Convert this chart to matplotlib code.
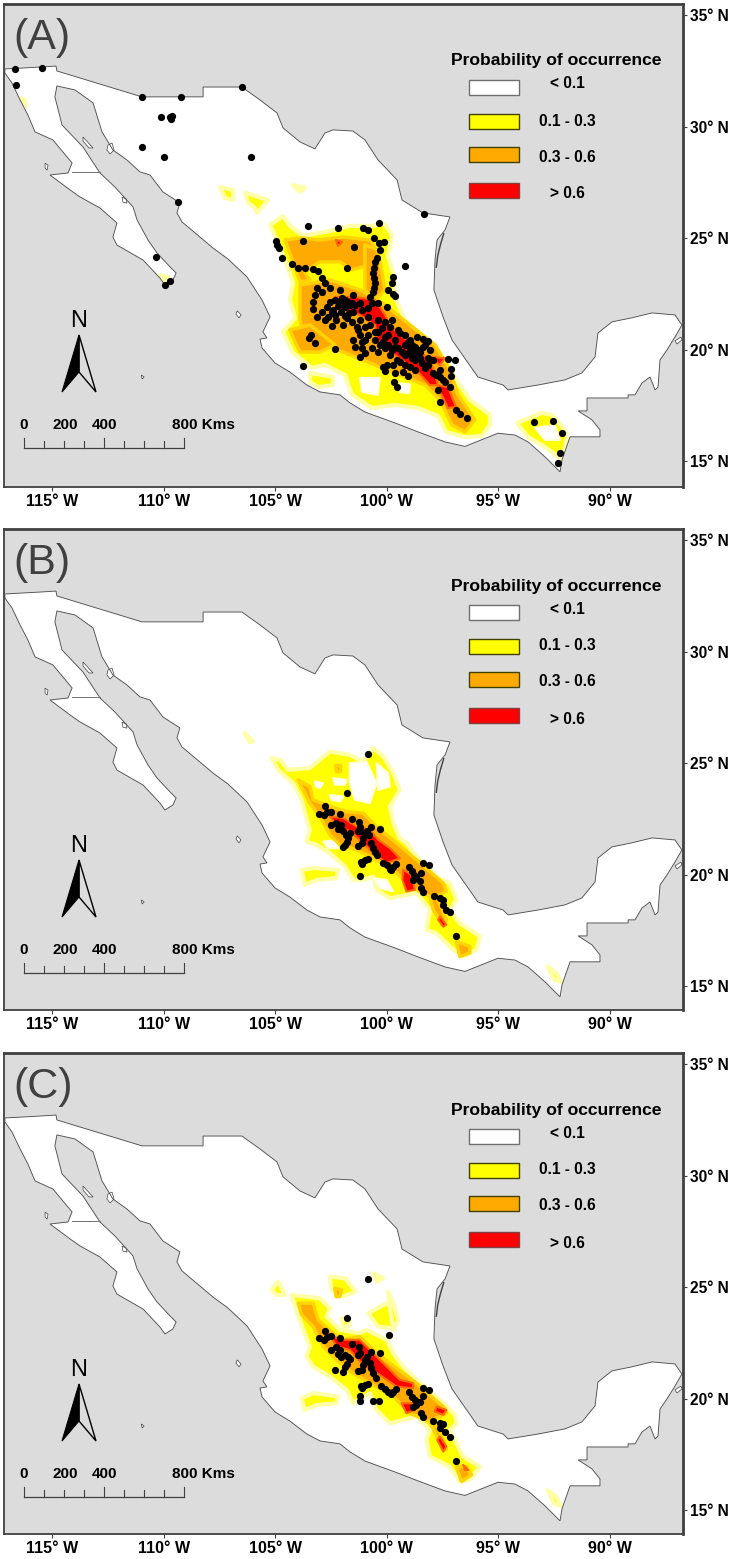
import matplotlib
matplotlib.use("Agg")
import matplotlib.pyplot as plt
from matplotlib.patches import Polygon, Rectangle
from matplotlib.transforms import Affine2D

plt.rcParams['font.family'] = ['Liberation Sans', 'DejaVu Sans']

W, H = 730, 1559
BG = '#dcdcdc'
FRAME = '#404040'

lon_ticks = [-115, -110, -105, -100, -95, -90]
lat_ticks = [35, 30, 25, 20, 15]

legend_title = 'Probability of occurrence'
legend_labels = ['< 0.1', '0.1 - 0.3', '0.3 - 0.6', '> 0.6']
legend_colors = ['#ffffff', '#ffff00', '#ffaa00', '#ff0000']
legend_edges = ['#707070', '#404000', '#404000', '#804040']
scale_km = [0, 100, 200, 300, 400, 500, 600, 700, 800]
scale_labels = ['0', '200', '400', '800 Kms']

mexico = [(-117.11, 32.58), (-115.45, 32.67), (-114.82, 32.71), (-114.78, 32.49), (-110.97, 31.33), (-108.23, 31.33),
          (-108.23, 31.77), (-106.49, 31.77), (-105.68, 31.19), (-104.92, 30.61), (-104.65, 29.94), (-103.89, 29.31),
          (-103.22, 29.0), (-102.77, 29.71), (-102.41, 29.85), (-101.52, 29.80), (-100.98, 29.40), (-100.39, 28.50),
          (-99.54, 27.61), (-99.32, 26.71), (-98.38, 26.13), (-97.17, 25.95), (-97.39, 25.37), (-97.75, 24.92),
          (-97.84, 24.02), (-97.89, 22.68), (-97.48, 21.47), (-97.08, 20.44), (-96.36, 19.41), (-95.92, 18.78),
          (-94.79, 18.42), (-94.57, 18.2), (-93.23, 18.42), (-92.02, 18.65), (-91.26, 18.96), (-90.67, 19.68),
          (-90.54, 20.75), (-89.91, 21.25), (-89.02, 21.43), (-88.12, 21.65), (-87.09, 21.56), (-86.78, 21.11),
          (-87.09, 20.57), (-87.45, 19.99), (-87.76, 19.54), (-87.85, 18.33), (-87.98, 18.20), (-88.21, 18.78),
          (-88.57, 18.51), (-88.88, 17.98), (-89.19, 17.98), (-89.19, 17.84), (-91.03, 17.84), (-91.03, 17.26),
          (-91.43, 17.26), (-90.81, 16.86), (-90.45, 16.41), (-90.45, 16.10), (-91.79, 16.10), (-92.15, 15.07),
          (-92.24, 14.53), (-92.91, 15.20), (-93.67, 15.87), (-94.26, 16.18), (-95.02, 16.26), (-95.47, 16.08),
          (-96.5, 15.67), (-97.39, 15.87), (-98.6, 16.32), (-99.63, 16.72), (-100.98, 17.21), (-101.65, 17.62),
          (-102.1, 17.98), (-102.99, 18.11), (-103.58, 18.42), (-104.34, 19.0), (-105.01, 19.41), (-105.59, 20.08),
          (-105.68, 20.48), (-105.37, 20.53), (-105.55, 20.80), (-105.23, 21.47), (-105.59, 22.23), (-106.26, 23.26),
          (-107.12, 24.07), (-107.79, 24.56), (-108.37, 25.05), (-109.18, 25.73), (-109.4, 26.13), (-109.27, 26.58),
          (-110.03, 27.07), (-110.61, 27.83), (-111.06, 27.97), (-111.64, 28.50), (-112.27, 28.95), (-112.76, 29.76),
          (-113.16, 31.06), (-113.97, 31.64), (-114.78, 31.82), (-114.87, 31.33), (-114.55, 30.07), (-113.61, 29.08),
          (-112.85, 27.92), (-112.18, 27.29), (-111.37, 26.40), (-111.19, 25.82), (-110.70, 24.92), (-110.30, 24.34),
          (-109.71, 23.71), (-109.44, 23.44), (-109.58, 23.13), (-109.94, 22.90), (-110.16, 23.21), (-110.92, 24.02),
          (-112.09, 24.69), (-112.27, 25.05), (-112.09, 25.68), (-112.85, 26.35), (-113.75, 26.85), (-114.19, 27.16),
          (-115.09, 27.83), (-114.28, 27.92), (-114.1, 28.37), (-114.96, 29.40), (-115.76, 29.76), (-116.08, 30.52),
          (-116.43, 31.19), (-116.79, 31.95), (-117.11, 32.40)]
baja_border = [(-114.1, 27.97), (-112.85, 27.97)]
lagoon = [(-97.45, 25.2), (-97.6, 24.7), (-97.72, 24.2), (-97.78, 23.7)]
islands = [
    [(-113.61, 29.53), (-113.16, 29.04), (-113.34, 29.04), (-113.61, 29.35)],
    [(-112.49, 29.17), (-112.31, 29.26), (-112.22, 28.95), (-112.4, 28.77), (-112.54, 28.95)],
    [(-115.31, 28.36), (-115.18, 28.27), (-115.22, 28.05), (-115.31, 28.14)],
    [(-111.86, 26.84), (-111.68, 26.75), (-111.64, 26.57), (-111.82, 26.61)],
    [(-111.0, 18.87), (-110.87, 18.78), (-110.96, 18.69)],
    [(-106.7, 21.74), (-106.53, 21.56), (-106.62, 21.43), (-106.76, 21.6)],
    [(-87.09, 20.40), (-86.82, 20.57), (-86.78, 20.44), (-87.0, 20.26)],
]

# panel A, probability areas
yellow_a = [
    [(-105.23, 25.59), (-104.65, 25.99), (-104.34, 25.55), (-103.76, 25.10), (-102.55, 25.32), (-101.65, 25.55),
     (-100.66, 25.55), (-100.08, 25.64), (-99.77, 25.10), (-99.95, 24.20), (-99.68, 23.31), (-99.63, 22.32),
     (-99.19, 21.34), (-98.42, 20.57), (-97.30, 19.45), (-96.90, 18.65), (-96.27, 17.75), (-95.38, 17.08),
     (-95.38, 16.63), (-95.74, 16.14), (-96.5, 16.09), (-97.35, 16.32), (-97.71, 17.04), (-98.6, 17.39),
     (-99.63, 17.53), (-100.66, 17.39), (-101.56, 17.98), (-101.87, 18.87), (-102.77, 19.32), (-103.35, 19.19),
     (-104.2, 19.86), (-104.65, 20.8), (-104.11, 21.43), (-104.34, 22.23), (-104.2, 22.99), (-104.43, 23.67),
     (-104.92, 24.92)],
    [(-103.44, 18.96), (-102.41, 18.78), (-102.41, 18.42), (-103.08, 18.33), (-103.44, 18.56)],
    [(-107.47, 27.29), (-106.89, 27.16), (-106.89, 26.71), (-107.25, 26.8)],
    [(-106.35, 27.03), (-105.32, 26.71), (-105.59, 26.4), (-105.82, 26.13), (-105.95, 26.4), (-106.22, 26.58)],
    [(-104.2, 27.38), (-103.67, 27.25), (-103.89, 27.07)],
    [(-94.17, 16.72), (-93.05, 17.17), (-92.6, 17.08), (-92.02, 16.41), (-91.93, 16.05), (-92.15, 15.07),
     (-92.91, 15.65), (-93.67, 16.09)],
    [(-116.43, 31.28), (-116.21, 31.19), (-116.21, 30.88)],
    [(-110.16, 23.35), (-109.8, 23.26), (-109.94, 23.08)],
]
holes_a = [
    [(-93.36, 16.5), (-92.47, 16.63), (-92.24, 15.96), (-92.91, 15.96)],
    [(-99.41, 18.5), (-98.96, 18.45), (-99.0, 18.05), (-99.41, 18.1)],
    [(-101.2, 18.74), (-100.31, 18.74), (-100.4, 17.98), (-101.11, 18.11)],
]
orange_a = [
    [(-104.56, 24.92), (-103.89, 25.01), (-102.99, 24.92), (-102.0, 25.05), (-100.75, 24.92), (-100.4, 24.38),
     (-100.75, 23.8), (-101.56, 23.58), (-102.1, 23.94), (-102.99, 23.94), (-103.67, 23.49), (-103.44, 23.13),
     (-103.89, 23.04), (-104.2, 23.93)],
    [(-103.89, 22.9), (-102.55, 23.13), (-101.2, 22.68), (-100.08, 22.01), (-98.96, 21.11), (-97.84, 20.22),
     (-97.17, 19.1), (-96.81, 17.98), (-96.05, 16.86), (-96.5, 16.32), (-97.08, 16.63), (-97.62, 17.75),
     (-98.29, 18.42), (-99.41, 18.87), (-100.53, 19.32), (-101.65, 19.77), (-102.77, 20.22), (-103.67, 20.44),
     (-103.89, 21.34)],
    [(-100.98, 24.7), (-100.4, 24.47), (-100.08, 22.68), (-100.53, 22.23), (-100.98, 22.68)],
    [(-104.34, 20.89), (-103.44, 21.11), (-102.32, 20.22), (-102.99, 19.9), (-103.89, 19.9), (-104.11, 20.35)],
]
red_a = [
    [(-102.32, 22.37), (-101.43, 22.37), (-100.53, 22.23), (-100.08, 21.56), (-99.86, 21.11), (-99.41, 20.66),
     (-98.51, 19.99), (-97.98, 19.32), (-97.71, 18.42), (-98.07, 18.42), (-98.6, 19.0), (-99.63, 19.77),
     (-100.4, 20.22), (-100.53, 21.11), (-101.2, 21.56), (-102.1, 21.78)],
    [(-97.75, 18.42), (-97.26, 18.33), (-96.9, 17.44), (-97.26, 17.39)],
    [(-98.15, 19.68), (-97.39, 19.63), (-97.62, 19.32)],
    [(-102.28, 24.92), (-102.0, 24.83), (-102.19, 24.65)],
]
points_a = [(-116.66, 32.58), (-115.45, 32.63), (-116.61, 31.86), (-110.97, 31.33), (-109.22, 31.33), (-106.49, 31.77),
            (-110.12, 30.43), (-109.71, 30.43), (-109.62, 30.48), (-109.67, 30.34), (-110.97, 29.09), (-109.98, 28.64),
            (-106.08, 28.64), (-109.36, 26.62), (-103.53, 25.55), (-102.19, 25.46), (-101.07, 25.46), (-103.76, 24.88),
            (-101.47, 24.61), (-104.96, 24.88), (-104.92, 24.7), (-104.83, 24.56), (-104.7, 24.11), (-110.34, 24.16),
            (-98.33, 26.08), (-100.35, 25.68), (-100.84, 25.37), (-100.57, 25.01), (-100.35, 24.79), (-100.13, 24.83),
            (-100.31, 24.47), (-100.44, 24.11), (-109.94, 22.9), (-109.71, 23.08), (-104.25, 23.84), (-103.98, 23.67),
            (-103.67, 23.67), (-103.31, 23.62), (-103.08, 23.53), (-101.78, 23.67), (-102.9, 23.22), (-102.77, 23.0),
            (-103.13, 22.77), (-102.55, 22.77), (-102.9, 22.59), (-103.22, 22.46), (-103.31, 22.14), (-103.31, 21.83),
            (-102.1, 22.68), (-101.52, 22.46), (-103.13, 21.47), (-102.9, 21.69), (-102.68, 21.92), (-102.55, 22.14),
            (-102.64, 21.47), (-102.32, 21.56), (-102.28, 21.34), (-102.46, 21.07), (-101.96, 21.11), (-101.78, 21.43),
            (-101.52, 21.69), (-101.2, 22.1), (-103.4, 20.66), (-103.49, 20.53), (-103.22, 20.31), (-102.32, 20.04),
            (-101.52, 20.44), (-101.43, 20.13), (-101.2, 19.68), (-103.76, 19.28), (-101.34, 21.02), (-101.2, 20.66),
            (-101.11, 20.35), (-101.11, 20.08), (-102.32, 22.23), (-102.0, 22.32), (-101.74, 22.14), (-102.19, 21.96),
            (-101.87, 21.92), (-101.56, 22.1), (-102.41, 21.78), (-102.05, 21.69), (-101.7, 21.65), (-99.19, 23.76),
            (-99.72, 23.26), (-99.77, 22.99), (-99.95, 22.68), (-99.72, 22.5), (-99.63, 22.41), (-100.53, 23.93),
            (-100.62, 23.44), (-100.53, 22.99), (-100.62, 22.59), (-100.75, 22.37), (-100.66, 22.1), (-100.4, 22.1),
            (-99.99, 21.92), (-100.84, 21.87), (-100.84, 21.47), (-100.75, 21.11), (-100.53, 20.8), (-100.22, 20.98),
            (-99.86, 21.02), (-100.08, 20.57), (-99.63, 20.44), (-99.19, 20.22), (-98.65, 20.57), (-98.38, 20.48),
            (-98.15, 20.4), (-98.74, 20.13), (-98.38, 20.13), (-99.05, 19.86), (-98.74, 19.86), (-98.6, 19.99),
            (-98.15, 19.63), (-98.42, 19.41), (-98.29, 19.19), (-97.93, 18.96), (-97.62, 18.78), (-97.39, 18.56),
            (-97.17, 18.33), (-97.26, 19.59), (-96.95, 19.54), (-97.12, 19.14), (-97.12, 18.83), (-97.71, 18.2),
            (-97.62, 17.66), (-96.9, 17.3), (-96.72, 17.13), (-96.41, 16.95), (-100.17, 19.23), (-100.08, 19.05),
            (-99.72, 19.32), (-99.63, 18.96), (-99.28, 19.01), (-99.05, 18.83), (-99.68, 18.56), (-99.54, 18.33),
            (-100.98, 19.86), (-100.4, 19.9), (-99.86, 19.77), (-99.5, 20.08), (-99.54, 19.54), (-98.96, 19.23),
            (-100.98, 21.02), (-100.98, 20.44), (-100.66, 20.08), (-100.08, 20.08), (-99.41, 20.75), (-98.74, 19.54),
            (-93.41, 16.77), (-92.56, 16.81), (-92.15, 16.27), (-92.24, 15.38), (-92.33, 14.93), (-99.19, 19.77),
            (-98.87, 20.22), (-98.51, 19.63), (-99.41, 19.45), (-100.17, 20.35), (-99.77, 19.99), (-99.05, 20.35),
            (-99.95, 20.66), (-100.4, 21.34), (-101.2, 21.34), (-101.65, 22.01),
            (-101.87, 22.23), (-101.43, 22.01), (-101.11, 21.78), (-102.1, 22.1), (-102.46, 21.69), (-102.77, 21.34),
            (-101.87, 21.52), (-101.56, 21.25), (-101.29, 20.89), (-100.84, 20.66), (-100.53, 20.44), (-100.31, 20.22),
            (-99.95, 20.22), (-99.63, 20.13), (-99.32, 19.9), (-98.96, 20.08), (-98.87, 19.63), (-98.51, 19.9),
            (-98.29, 20.22), (-98.07, 19.99), (-97.93, 19.54), (-98.15, 19.32), (-97.62, 19.1), (-100.4, 20.8),
            (-100.08, 21.25), (-99.77, 21.34), (-99.5, 20.89), (-99.19, 20.66), (-98.96, 20.44), (-99.99, 19.32),
            (-99.19, 19.32), (-98.74, 19.1), (-100.57, 23.66), (-100.57, 23.22), (-100.57, 22.77), (-97.8, 18.87),
            (-97.48, 18.65)]

# panel B
yellow_b = [
    [(-105.16, 25.22), (-104.79, 25.15), (-104.42, 24.70), (-103.45, 24.78), (-102.55, 25.52), (-101.66, 25.37),
     (-101.06, 25.07), (-100.61, 25.67), (-100.16, 25.30), (-99.71, 24.55), (-99.42, 23.80), (-99.86, 23.06),
     (-99.71, 22.31), (-99.42, 21.64), (-99.12, 21.42), (-98.67, 20.82), (-97.77, 19.92), (-97.18, 19.62),
     (-96.88, 18.88), (-97.18, 18.43), (-96.73, 17.83), (-95.83, 17.24), (-95.98, 16.64), (-96.58, 16.34),
     (-97.03, 16.64), (-97.77, 17.38), (-98.22, 17.53), (-98.07, 18.43), (-98.67, 19.18), (-99.86, 18.95),
     (-100.46, 19.33), (-100.61, 19.92), (-101.06, 19.77), (-101.51, 19.77), (-101.88, 20.37), (-102.55, 20.97),
     (-103.15, 21.34), (-103.6, 21.49), (-103.45, 22.01), (-103.82, 23.36), (-104.19, 24.1), (-104.87, 24.70)],
    [(-103.82, 20.22), (-103.3, 20.30), (-102.18, 20.22), (-102.25, 19.85), (-103.15, 19.77), (-103.67, 19.55)],
    [(-106.36, 26.34), (-106.0, 25.97), (-106.15, 25.95)],
    [(-92.8, 15.9), (-92.4, 15.6), (-92.2, 15.2), (-92.5, 15.3)],
]
holes_b = [
    [(-102.4, 24.33), (-101.8, 24.25), (-101.88, 24.03), (-102.33, 24.03)],
    [(-103.22, 24.18), (-102.85, 24.1), (-103.0, 23.88), (-103.18, 23.95)],
    [(-102.55, 23.58), (-101.95, 23.5), (-102.1, 23.28), (-102.48, 23.36)],
    [(-101.66, 25.0), (-100.91, 25.07), (-100.46, 24.1), (-100.76, 23.21), (-101.43, 23.36), (-101.66, 24.1)],
    [(-102.85, 21.49), (-102.1, 21.57), (-102.18, 21.19), (-102.63, 21.19)],
    [(-100.61, 19.85), (-100.01, 19.77), (-99.71, 19.25), (-100.31, 19.4)],
    [(-100.46, 25.0), (-99.94, 24.55), (-99.86, 23.95), (-100.39, 23.8)],
]
orange_b = [
    [(-103.97, 24.25), (-103.45, 23.95), (-103.3, 23.36), (-102.55, 23.06), (-101.8, 22.83), (-101.06, 22.76),
     (-100.46, 22.16), (-99.56, 21.42), (-98.67, 20.67), (-97.47, 19.62), (-97.33, 19.25), (-97.77, 19.03),
     (-97.33, 17.98), (-97.47, 17.68), (-97.92, 18.43), (-98.07, 19.03), (-98.82, 19.40), (-99.56, 20.07),
     (-100.46, 20.67), (-101.36, 21.12), (-102.1, 21.34), (-102.55, 21.79), (-103.0, 22.61), (-103.45, 23.21),
     (-103.75, 23.8)],
    [(-96.88, 17.01), (-96.28, 16.79), (-96.28, 16.49), (-96.73, 16.34)],
    [(-102.33, 24.92), (-102.1, 24.92), (-102.1, 24.63), (-102.28, 24.63)],
]
red_b = [
    [(-102.55, 22.61), (-101.95, 22.54), (-101.36, 22.16), (-100.76, 22.01), (-100.39, 21.57), (-99.86, 21.19),
     (-99.42, 20.74), (-100.01, 20.52), (-100.61, 20.97), (-101.13, 21.49), (-101.66, 21.94), (-102.25, 22.24)],
    [(-99.27, 20.22), (-98.9, 20.0), (-98.74, 19.33), (-99.12, 19.25), (-99.3, 19.77)],
    [(-97.62, 18.13), (-97.33, 17.76), (-97.47, 17.68), (-97.7, 17.98)],
]
points_b = [(-100.83, 25.42), (-101.79, 23.67), (-102.79, 23.07), (-103.04, 22.73), (-102.82, 22.66), (-102.7, 22.8),
            (-102.51, 22.82), (-102.1, 22.73), (-102.48, 22.22), (-102.28, 22.34), (-102.18, 22.04), (-102.04, 22.25),
            (-101.95, 21.94), (-101.83, 21.79), (-101.66, 21.86), (-101.72, 21.64), (-101.77, 21.49), (-101.88, 21.34),
            (-101.95, 21.24), (-101.54, 22.49), (-101.24, 22.37), (-101.21, 22.13), (-101.28, 21.97), (-101.18, 21.94),
            (-100.73, 22.16), (-100.3, 22.07), (-100.98, 21.86), (-100.88, 21.94), (-101.06, 21.64), (-101.13, 21.42),
            (-101.31, 21.3), (-100.79, 21.79), (-100.73, 21.42), (-100.61, 21.19), (-100.52, 21.04), (-100.46, 20.89),
            (-101.16, 20.59), (-101.13, 20.49), (-100.98, 20.64), (-100.82, 20.71), (-101.18, 19.95), (-100.16, 20.52),
            (-100.01, 20.42), (-99.86, 20.27), (-99.79, 20.22), (-99.71, 20.37), (-99.6, 20.49), (-99.0, 20.36),
            (-98.89, 20.15), (-98.79, 20.0), (-98.82, 19.77), (-98.67, 19.92), (-98.52, 19.7), (-98.45, 19.4),
            (-98.37, 19.25), (-98.45, 20.1), (-98.36, 20.54), (-98.13, 20.45), (-97.88, 19.03), (-97.62, 18.95),
            (-97.47, 18.88), (-97.5, 18.65), (-97.33, 18.43), (-97.18, 18.33), (-96.91, 17.27)]

# panel C
yellow_c = [
    [(-104.27, 24.65), (-103.0, 24.5), (-102.55, 24.06), (-102.7, 23.68), (-102.1, 23.09), (-101.21, 22.94),
     (-100.91, 23.09), (-100.01, 22.64), (-99.71, 22.04), (-99.27, 21.44), (-98.67, 20.85), (-97.47, 19.8),
     (-96.95, 19.28), (-96.88, 18.9), (-97.18, 18.6), (-96.58, 17.41), (-95.83, 16.96), (-96.28, 16.37),
     (-96.73, 16.29), (-97.18, 16.96), (-98.07, 17.41), (-98.22, 18.16), (-98.07, 18.6), (-98.67, 19.2),
     (-99.86, 18.9), (-100.46, 19.5), (-100.76, 20.25), (-101.51, 19.8), (-101.8, 20.4), (-102.55, 20.99),
     (-103.3, 21.44), (-103.6, 21.89), (-103.45, 22.34), (-103.9, 23.53)],
    [(-102.55, 25.47), (-101.88, 25.4), (-101.39, 24.8), (-101.95, 24.58), (-102.48, 24.88)],
    [(-105.16, 24.88), (-104.87, 25.25), (-104.57, 24.65), (-104.94, 24.65)],
    [(-100.83, 23.83), (-100.01, 24.28), (-99.56, 23.83), (-99.71, 23.16), (-100.39, 23.23)],
    [(-99.94, 24.8), (-99.71, 24.28), (-99.49, 23.53), (-99.71, 23.09), (-99.86, 24.13)],
    [(-103.82, 20.02), (-103.3, 20.25), (-102.18, 20.1), (-102.25, 19.8), (-103.15, 19.72), (-103.67, 19.5)],
    [(-100.61, 25.62), (-100.16, 25.4), (-100.46, 25.25)],
    [(-102.03, 23.6), (-101.66, 23.46), (-101.73, 23.23), (-101.98, 23.26)],
    [(-92.8, 15.9), (-92.4, 15.6), (-92.2, 15.2), (-92.5, 15.3)],
]
holes_c = []
orange_c = [
    [(-103.97, 24.28), (-103.3, 24.28), (-103.07, 23.53), (-102.4, 22.94), (-101.95, 22.64), (-101.21, 22.79),
     (-100.46, 22.04), (-99.56, 21.37), (-98.67, 20.7), (-97.4, 19.58), (-97.33, 19.35), (-97.92, 19.05),
     (-97.47, 18.16), (-97.33, 17.71), (-97.77, 18.31), (-98.07, 18.98), (-98.97, 19.35), (-99.71, 20.1),
     (-100.76, 20.7), (-101.51, 21.14), (-102.25, 21.74), (-102.85, 22.34), (-103.3, 23.23), (-103.82, 23.76)],
    [(-96.88, 16.96), (-96.43, 16.96), (-96.21, 16.59), (-96.65, 16.29)],
    [(-102.33, 24.95), (-102.03, 24.88), (-102.1, 24.58), (-102.28, 24.58)],
]
red_c = [
    [(-102.55, 22.86), (-102.03, 22.64), (-101.21, 22.64), (-100.61, 22.04), (-100.01, 21.44), (-99.42, 20.85),
     (-98.82, 20.7), (-98.82, 20.47), (-99.56, 20.55), (-100.31, 21.07), (-101.06, 21.52), (-101.66, 22.19),
     (-102.25, 22.34)],
    [(-99.34, 19.8), (-98.9, 19.8), (-98.74, 19.5), (-99.12, 19.35)],
    [(-97.77, 19.65), (-97.33, 19.5), (-97.47, 19.28), (-97.85, 19.43)],
    [(-97.62, 18.31), (-97.33, 17.86), (-97.47, 17.63), (-97.74, 18.16)],
    [(-96.58, 17.04), (-96.35, 16.81), (-96.5, 16.81)],
]
points_c = [(-100.83, 25.38), (-101.79, 23.64), (-99.89, 22.86), (-102.79, 23.04), (-103.04, 22.71), (-102.82, 22.64),
            (-102.7, 22.76), (-102.51, 22.79), (-102.1, 22.7), (-101.54, 22.46), (-101.24, 22.34), (-100.73, 22.11),
            (-100.3, 22.04), (-102.48, 22.19), (-102.28, 22.31), (-102.18, 22.01), (-102.1, 22.19), (-102.03, 21.89),
            (-101.88, 21.97), (-101.73, 21.89), (-101.66, 21.77), (-101.77, 21.56), (-101.88, 21.44), (-101.95, 21.22),
            (-102.3, 21.31), (-101.28, 21.97), (-101.21, 22.04), (-101.31, 21.26), (-101.13, 21.29), (-100.98, 21.74),
            (-100.88, 21.89), (-101.06, 21.52), (-100.76, 21.59), (-100.73, 21.37), (-100.61, 21.14), (-100.49, 20.92),
            (-101.16, 20.55), (-101.13, 20.47), (-100.98, 20.62), (-100.82, 20.67), (-101.18, 20.13), (-101.18, 19.92),
            (-100.61, 19.92), (-100.37, 19.9), (-100.24, 20.59), (-100.09, 20.44), (-99.94, 20.32), (-99.79, 20.22),
            (-99.71, 20.32), (-99.6, 20.44), (-99.0, 20.31), (-98.89, 20.1), (-98.74, 19.95), (-98.82, 19.65),
            (-98.67, 19.72), (-98.52, 19.87), (-98.4, 20.13), (-98.45, 19.35), (-98.37, 19.2), (-98.36, 20.5),
            (-98.13, 20.41), (-97.92, 19.01), (-97.62, 18.9), (-97.47, 18.86), (-97.62, 18.68), (-97.4, 18.49),
            (-97.18, 18.28), (-96.91, 17.23)]


def draw_panel(fig, top, bottom, letter, yellow, holes, orange, red, points):
    ax = fig.add_axes([4 / W, 1 - bottom / H, (683 - 4) / W, (bottom - top) / H])
    ax.set_facecolor(BG)
    ax.set_xlim(-117.15, -86.73)
    ax.set_ylim(35.49 - (bottom - top) * 0.0448, 35.49)

    land = ax.add_patch(Polygon(mexico, fc='white', ec='none', zorder=1))
    for isl in islands:
        ax.add_patch(Polygon(isl, fc='white', ec='#404040', lw=0.5, zorder=1))
    # a wider pale edge stands in for the soft raster fringe of the map
    layers = [(yellow, '#ffff00', '#ffffa8', 3.0, 2), (holes, 'white', '#ffffd8', 1.5, 2.5),
              (orange, '#ffaa00', '#ffd400', 2.5, 3), (red, '#ff0000', '#ff6a00', 1.5, 4)]
    for shapes, col, edge, width, z in layers:
        for shape in shapes:
            p = ax.add_patch(Polygon(shape, fc=col, ec=edge, lw=width, zorder=z, joinstyle='round'))
            p.set_clip_path(land)
    ax.add_patch(Polygon(mexico, fc='none', ec='#505050', lw=0.65, zorder=5))
    ax.plot(*zip(*baja_border), color='#707070', lw=0.7, zorder=5)
    ax.plot(*zip(*lagoon), color='#404040', lw=1.0, zorder=5)
    ax.scatter(*zip(*points), s=27, color='black', lw=0, zorder=6)

    # everything below is placed in pixels of the panel, measured from its top
    tr = Affine2D().scale(1, -1).translate(0, H - (top - 4))

    ax.text(13, 38, letter, transform=tr, fontsize=31, color=FRAME, ha='left', va='center', zorder=7)

    ax.text(556, 61, legend_title, transform=tr, fontsize=12.6, fontweight='bold', ha='center', va='center')
    for lab, fc, ec, y0, dy in zip(legend_labels, legend_colors, legend_edges, [80, 114, 147, 183], [4, 7, 10, 11]):
        ax.add_patch(Rectangle((469, y0), 50, 15, transform=tr, fc=fc, ec=ec, lw=1.0, zorder=7))
        ax.text(567, y0 + dy, lab, transform=tr, fontsize=11.2, fontweight='bold', ha='center', va='center')

    # north arrow
    ax.text(78.5, 321, 'N', transform=tr, fontsize=17, ha='center', va='center')
    ax.add_patch(Polygon([(79, 335), (79, 372), (62, 392)], transform=tr, fc='black', ec='black', lw=0.8, zorder=7))
    ax.add_patch(Polygon([(79, 335), (79, 372), (96, 392)], transform=tr, fc='none', ec='black', lw=1.0, zorder=7))

    # scale bar, 0.2 px per km
    ax.plot([24 + km * 0.2 for km in (scale_km[0], scale_km[-1])], [448, 448], transform=tr, color='#404040', lw=0.9)
    for km in scale_km:
        ax.plot([24 + km * 0.2] * 2, [438 if km % 400 == 0 else 441, 448], transform=tr, color='#404040', lw=0.8)
    for lab, x, ha in zip(scale_labels, [24, 65, 105, 172], ['center', 'center', 'center', 'left']):
        ax.text(x, 425, lab, transform=tr, fontsize=11, fontweight='bold', ha=ha, va='center')

    ax.set_xticks(lon_ticks)
    ax.set_xticklabels([f'{abs(v)}° W' for v in lon_ticks], fontsize=11.5, fontweight='bold')
    ax.set_yticks(lat_ticks)
    ax.set_yticklabels([f'{v}° N' for v in lat_ticks], fontsize=11.2, fontweight='bold')
    ax.yaxis.tick_right()
    ax.tick_params(axis='both', length=3, width=0.8, color=FRAME, pad=2)
    for name, side in ax.spines.items():
        side.set_color(FRAME)
        side.set_linewidth(2.0 if name in ('right', 'top') else 1.3)
    return ax


fig = plt.figure(figsize=(W / 100, H / 100), dpi=100)
draw_panel(fig, 4, 487, '(A)', yellow_a, holes_a, orange_a, red_a, points_a)
draw_panel(fig, 529, 1010, '(B)', yellow_b, holes_b, orange_b, red_b, points_b)
draw_panel(fig, 1053, 1534, '(C)', yellow_c, holes_c, orange_c, red_c, points_c)
fig.savefig('out.png', dpi=100)
